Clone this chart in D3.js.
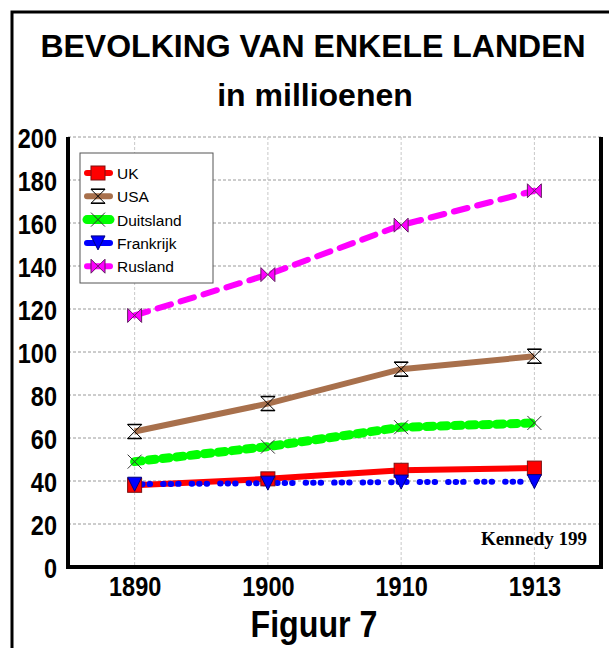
<!DOCTYPE html>
<html>
<head>
<meta charset="utf-8" />
<style>
body { margin: 0; background: white; }
svg { display: block; }
</style>
<script src="https://cdnjs.cloudflare.com/ajax/libs/d3/7.8.5/d3.min.js"></script>
</head>
<body>
<div id="graph"></div>
<script>
// data
var years = ["1890", "1900", "1910", "1913"];
var yTicks = [0, 20, 40, 60, 80, 100, 120, 140, 160, 180, 200];
var uk = [38, 41, 45, 46];
var usa = [63, 76, 92, 98];
var duitsland = [49, 56, 65, 67];
var frankrijk = [38.5, 39, 39.5, 39.7];
var rusland = [117, 136, 159, 175];

var series = [
    { name: "UK", values: uk, color: "#ff0000", dash: null, width: 6, marker: "square" },
    { name: "USA", values: usa, color: "#a8704c", dash: null, width: 6, marker: "hourglass" },
    { name: "Duitsland", values: duitsland, color: "#00ff00", dash: "7,7", width: 9, marker: "x" },
    { name: "Frankrijk", values: frankrijk, color: "#0000ff", dash: "0.5,7,0.5,7,0.5,13", width: 6, marker: "tri" },
    { name: "Rusland", values: rusland, color: "#ff00ff", dash: "14,10", width: 6, marker: "bowtie" }
];

var W = 609, H = 648;
var pLeft = 68, pRight = 601, pTop = 137, pBottom = 567;
var sans = "'Liberation Sans', Arial, sans-serif";

// squeeze text horizontally (the scan is a bit narrow)
function squeeze(sel, f) {
    sel.each(function () {
        var len = this.getComputedTextLength();
        d3.select(this).attr("textLength", len * f).attr("lengthAdjust", "spacingAndGlyphs");
    });
}

var svg = d3.select("#graph").append("svg")
    .attr("width", W).attr("height", H);

// outer frame
svg.append("path")
    .attr("d", "M12," + H + " L12,12 L" + W + ",12")
    .attr("fill", "none").attr("stroke", "black").attr("stroke-width", 3);

svg.append("text").attr("x", 313).attr("y", 57)
    .attr("text-anchor", "middle")
    .style("font-family", sans).style("font-weight", "bold").style("font-size", "32px")
    .text("BEVOLKING VAN ENKELE LANDEN");
svg.append("text").attr("x", 315).attr("y", 106)
    .attr("text-anchor", "middle")
    .style("font-family", sans).style("font-weight", "bold").style("font-size", "32px")
    .text("in millioenen");
svg.append("text").attr("x", 314).attr("y", 637)
    .attr("text-anchor", "middle")
    .style("font-family", sans).style("font-weight", "bold").style("font-size", "37px")
    .text("Figuur 7")
    .call(squeeze, 0.87);

var xScale = d3.scalePoint().domain(years).range([pLeft, pRight]).padding(0.5);
var yScale = d3.scaleLinear().domain([0, 200]).range([pBottom, pTop]);

// grid
svg.append("g").selectAll("line").data(yTicks.slice(1)).enter().append("line")
    .attr("x1", pLeft).attr("x2", pRight)
    .attr("y1", function (d) { return yScale(d); })
    .attr("y2", function (d) { return yScale(d); })
    .attr("stroke", "#9a9a9a").attr("stroke-width", 1).attr("stroke-dasharray", "3,2");
svg.append("g").selectAll("line").data(years).enter().append("line")
    .attr("x1", function (d) { return xScale(d); })
    .attr("x2", function (d) { return xScale(d); })
    .attr("y1", pTop).attr("y2", pBottom)
    .attr("stroke", "#c8c8c8").attr("stroke-width", 1).attr("stroke-dasharray", "3,2");

// axes
var yAxis = d3.axisLeft(yScale).tickValues(yTicks).tickSize(0).tickPadding(11);
var gy = svg.append("g").attr("transform", "translate(" + pLeft + ",0)").call(yAxis);
var xAxis = d3.axisBottom(xScale).tickSize(0).tickPadding(9);
var gx = svg.append("g").attr("transform", "translate(0," + pBottom + ")").call(xAxis);
[gx, gy].forEach(function (g) {
    g.select(".domain").remove();
    g.selectAll("text")
        .style("font-family", sans)
        .style("font-weight", "bold").style("font-size", "28px").attr("fill", "black")
        .call(squeeze, 0.84);
});
gy.selectAll("text").attr("dy", "0.36em");

// plot frame
svg.append("path")
    .attr("d", "M" + pLeft + "," + pTop + " L" + pLeft + "," + pBottom + " L" + pRight + "," + pBottom + " L" + pRight + "," + pTop)
    .attr("fill", "none").attr("stroke", "black").attr("stroke-width", 4);

function drawMarker(g, type, x, y, color) {
    var s = 7;
    if (type === "square") {
        g.append("rect").attr("x", x - s).attr("y", y - s).attr("width", 2 * s).attr("height", 2 * s)
            .attr("fill", color).attr("stroke", "#7a1010").attr("stroke-width", 1);
    } else if (type === "hourglass") {
        g.append("path")
            .attr("d", "M" + (x - s) + "," + (y - s) + " L" + (x + s) + "," + (y - s) + " L" + (x - s) + "," + (y + s) + " L" + (x + s) + "," + (y + s) + " Z")
            .attr("fill", "none").attr("stroke", "black").attr("stroke-width", 1);
        g.append("path")
            .attr("d", "M" + (x - s) + "," + (y - s) + " L" + (x + s) + "," + (y - s) + " M" + (x - s) + "," + (y + s) + " L" + (x + s) + "," + (y + s))
            .attr("stroke", "black").attr("stroke-width", 1.5);
    } else if (type === "x") {
        g.append("path")
            .attr("d", "M" + (x - s) + "," + (y - s) + " L" + (x + s) + "," + (y + s) + " M" + (x - s) + "," + (y + s) + " L" + (x + s) + "," + (y - s))
            .attr("stroke", "#333").attr("stroke-width", 1);
    } else if (type === "tri") {
        g.append("path")
            .attr("d", "M" + (x - s) + "," + (y - s) + " L" + (x + s) + "," + (y - s) + " L" + x + "," + (y + s) + " Z")
            .attr("fill", color).attr("stroke", "#000080").attr("stroke-width", 1);
    } else if (type === "bowtie") {
        g.append("path")
            .attr("d", "M" + (x - s) + "," + (y - s) + " L" + (x + s) + "," + (y + s) + " L" + (x + s) + "," + (y - s) + " L" + (x - s) + "," + (y + s) + " Z")
            .attr("fill", color).attr("stroke", "#602060").attr("stroke-width", 1);
    }
}

var line = d3.line()
    .x(function (d, i) { return xScale(years[i]); })
    .y(function (d) { return yScale(d); });

// draw France after UK so the dots sit over the red line like the figure
var order = [4, 1, 2, 0, 3];
order.forEach(function (k) {
    var s = series[k];
    svg.append("path").datum(s.values)
        .attr("d", line)
        .attr("fill", "none").attr("stroke", s.color)
        .attr("stroke-width", s.width)
        .attr("stroke-linecap", s.dash ? "round" : "butt")
        .attr("stroke-dasharray", s.dash);
});
series.forEach(function (s) {
    var g = svg.append("g");
    s.values.forEach(function (v, i) {
        drawMarker(g, s.marker, xScale(years[i]), yScale(v), s.color);
    });
});

svg.append("text").attr("x", 587).attr("y", 545)
    .attr("text-anchor", "end")
    .style("font-family", "'Liberation Serif', 'Times New Roman', serif").style("font-weight", "bold").style("font-size", "19px")
    .text("Kennedy 199");

// legend
var legend = svg.append("g");
legend.append("rect").attr("x", 80).attr("y", 153).attr("width", 133).attr("height", 130)
    .attr("fill", "white").attr("stroke", "#555").attr("stroke-width", 1);
series.forEach(function (s, i) {
    var ly = 173 + i * 23.3;
    legend.append("line").attr("x1", 87).attr("x2", 110).attr("y1", ly).attr("y2", ly)
        .attr("stroke", s.color).attr("stroke-width", s.width)
        .attr("stroke-linecap", "round");
    drawMarker(legend, s.marker, 98, ly, s.color);
    legend.append("text").attr("x", 117).attr("y", ly + 6)
        .style("font-family", sans).style("font-size", "15.5px")
        .text(s.name);
});
</script>
</body>
</html>
